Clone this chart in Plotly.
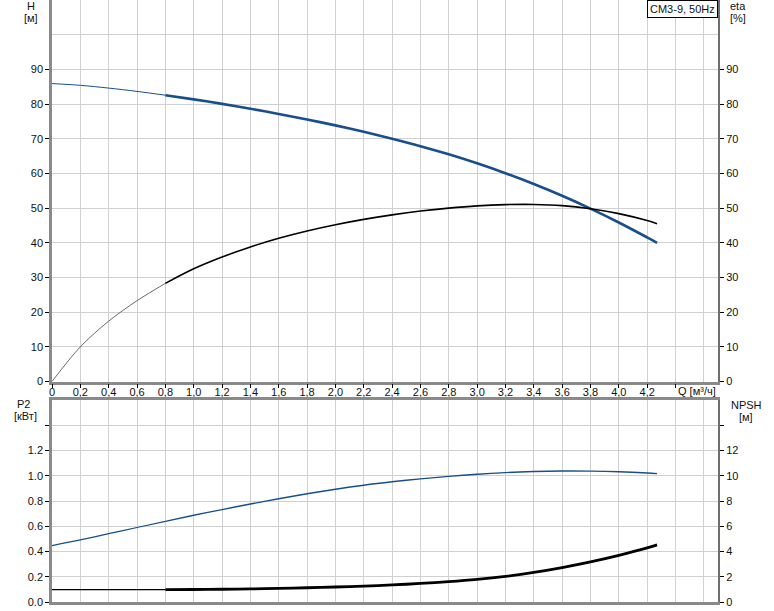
import plotly.graph_objects as go

# ---- data ----
Q = [0.0, 0.2, 0.4, 0.6, 0.8, 1.0, 1.2, 1.4, 1.6, 1.8, 2.0, 2.2, 2.4, 2.6, 2.8,
     3.0, 3.2, 3.4, 3.6, 3.8, 4.0, 4.2, 4.27]
H = [85.9, 85.4, 84.6, 83.65, 82.55, 81.35, 80.05, 78.65, 77.15, 75.55, 73.85,
     72.0, 70.0, 67.85, 65.5, 62.9, 60.05, 56.95, 53.55, 49.85, 45.85, 41.55, 40.0]
ETA = [0.0, 10.0, 17.4, 23.3, 28.3, 32.5, 35.9, 38.8, 41.3, 43.4, 45.2, 46.75,
       48.05, 49.15, 50.0, 50.65, 51.0, 51.05, 50.7, 49.8, 48.4, 46.4, 45.5]
P2 = [0.447, 0.492, 0.541, 0.590, 0.639, 0.687, 0.732, 0.776, 0.818, 0.857, 0.893,
      0.925, 0.952, 0.975, 0.995, 1.012, 1.025, 1.034, 1.038, 1.037, 1.032, 1.022,
      1.017]
NPSH = [0.98, 0.98, 0.98, 0.98, 0.98, 0.99, 1.01, 1.04, 1.08, 1.13, 1.19, 1.26,
        1.35, 1.47, 1.61, 1.79, 2.03, 2.34, 2.72, 3.17, 3.69, 4.28, 4.52]
Q_SPLIT = 0.8  # start of the recommended (thick) part of the curves

X_TICKS = [0.0, 0.2, 0.4, 0.6, 0.8, 1.0, 1.2, 1.4, 1.6, 1.8, 2.0, 2.2, 2.4, 2.6,
           2.8, 3.0, 3.2, 3.4, 3.6, 3.8, 4.0, 4.2, 4.4]
X_LABELS = ["0", "0,2", "0,4", "0,6", "0,8", "1,0", "1,2", "1,4", "1,6", "1,8",
            "2,0", "2,2", "2,4", "2,6", "2,8", "3,0", "3,2", "3,4", "3,6", "3,8",
            "4,0", "4,2", ""]
H_TICKS = [0, 10, 20, 30, 40, 50, 60, 70, 80, 90]
P2_TICKS = [0.0, 0.2, 0.4, 0.6, 0.8, 1.0, 1.2, 1.4]
P2_LABELS = ["0.0", "0.2", "0.4", "0.6", "0.8", "1.0", "1.2", ""]
NPSH_TICKS = [0, 2, 4, 6, 8, 10, 12, 14]
NPSH_LABELS = ["0", "2", "4", "6", "8", "10", "12", ""]

BLUE = "#174f8c"
GRID = "#d0d0d0"
AXIS = "#8a8a8a"
FONT = "Liberation Sans, Arial, sans-serif"

i0 = Q.index(Q_SPLIT)


def part(vals, thin):
    if thin:
        return Q[: i0 + 1], vals[: i0 + 1]
    return Q[i0:], vals[i0:]


fig = go.Figure()


def add(vals, thin, color, width, xa, ya):
    x, y = part(vals, thin)
    fig.add_trace(go.Scatter(x=x, y=y, mode="lines", xaxis=xa, yaxis=ya,
                             line=dict(color=color, width=width, shape="spline",
                                       smoothing=0.9),
                             showlegend=False, hoverinfo="skip"))


add(H, True, BLUE, 1.0, "x", "y")
add(H, False, BLUE, 2.6, "x", "y")
add(ETA, True, "#444444", 0.8, "x", "y2")
add(ETA, False, "#000000", 1.6, "x", "y2")
add(P2, True, BLUE, 1.2, "x2", "y3")
add(P2, False, BLUE, 1.4, "x2", "y3")
add(NPSH, True, "#000000", 1.2, "x2", "y4")
add(NPSH, False, "#000000", 2.8, "x2", "y4")

W, HGT = 774, 611
ML, MR, MT, MB = 52, 56, 0, 9
ph = HGT - MT - MB
top_dom = [(ph - 381.5) / ph, 1.0]
bot_dom = [0.0, (ph - 400) / ph]

tickfont = dict(family=FONT, size=11, color="#111111")

xcommon = dict(range=[0, 4.7], showgrid=True, gridcolor=GRID, gridwidth=1.2,
               showline=True, linecolor=AXIS, linewidth=2.5, zeroline=False,
               minor=dict(tickvals=[4.6], showgrid=True, gridcolor=GRID,
                          gridwidth=1.2, ticks=""),
               tickvals=X_TICKS, fixedrange=True)

fig.update_layout(
    width=W, height=HGT, margin=dict(l=ML, r=MR, t=MT, b=MB),
    paper_bgcolor="white", plot_bgcolor="white", showlegend=False,
    font=dict(family=FONT, size=11, color="#111111"),
    xaxis=dict(**xcommon, domain=[0, 1], anchor="y", ticktext=X_LABELS,
               ticks="outside", ticklen=4, tickcolor="#000", tickfont=tickfont,
               ticklabelstandoff=-5),
    xaxis2=dict(**xcommon, domain=[0, 1], anchor="y3", matches="x",
                showticklabels=False, ticks="", mirror=True),
    yaxis=dict(domain=top_dom, range=[0, 110], tickvals=H_TICKS, showgrid=True,
               gridcolor=GRID, gridwidth=1.2, showline=True, linecolor=AXIS,
               linewidth=2.5, ticks="outside", ticklen=4, tickcolor="#000",
               zeroline=False, tickfont=tickfont, anchor="x",
               minor=dict(tickvals=[100], showgrid=True, gridcolor=GRID,
                          gridwidth=1.2, ticks=""), fixedrange=True),
    yaxis2=dict(range=[0, 110], tickvals=H_TICKS, overlaying="y", side="right",
                anchor="x", showgrid=False, showline=True, linecolor="#6e6e6e",
                linewidth=2, ticks="outside", ticklen=4, tickcolor="#000",
                zeroline=False, tickfont=tickfont, fixedrange=True),
    yaxis3=dict(domain=bot_dom, range=[0, 1.6], tickvals=P2_TICKS,
                ticktext=P2_LABELS, showgrid=True, gridcolor=GRID, gridwidth=1.2,
                showline=True, linecolor=AXIS, linewidth=2.5, ticks="outside",
                ticklen=4, tickcolor="#000", zeroline=False, tickfont=tickfont,
                anchor="x2", fixedrange=True),
    yaxis4=dict(range=[0, 16], tickvals=NPSH_TICKS, ticktext=NPSH_LABELS,
                overlaying="y3", side="right", anchor="x2", showgrid=False,
                showline=True, linecolor="#6e6e6e", linewidth=2, ticks="outside",
                ticklen=4, tickcolor="#000", zeroline=False, tickfont=tickfont,
                fixedrange=True),
)


def px2paper(px, py):
    return (px - ML) / (W - ML - MR), (ph - (py - MT)) / ph


def label(text, px, py, anchor="center"):
    x, y = px2paper(px, py)
    fig.add_annotation(text=text, x=x, y=y, xref="paper", yref="paper",
                       showarrow=False, xanchor=anchor, yanchor="middle",
                       font=dict(family=FONT, size=11, color="#111111"))


label("H", 31, 6)
label("[м]", 31, 18)
label("eta", 738, 6)
label("[%]", 738, 18)
label("P2", 23, 404)
label("[кВт]", 25, 416)
label("NPSH", 746, 405)
label("[м]", 746, 417)

# Q axis unit label next to the last tick
_, yq = px2paper(0, 391)
fig.add_annotation(text="Q [м³/ч]", x=4.4, y=yq, xref="x", yref="paper",
                   showarrow=False, xanchor="left", yanchor="middle", xshift=1,
                   font=dict(family=FONT, size=11, color="#111111"))

# curve identification box
fig.add_annotation(text="CM3-9, 50Hz", x=1.0, y=1.0, xref="paper", yref="paper",
                   showarrow=False, xanchor="right", yanchor="top",
                   bgcolor="white", bordercolor="#000", borderwidth=1, borderpad=2,
                   font=dict(family=FONT, size=11, color="#111111"))

fig.write_html(
    "out.html",
    config={"displayModeBar": False},
    post_script="document.body.style.margin='0';document.body.style.padding='0';"
                "document.documentElement.style.overflow='hidden';",
)
